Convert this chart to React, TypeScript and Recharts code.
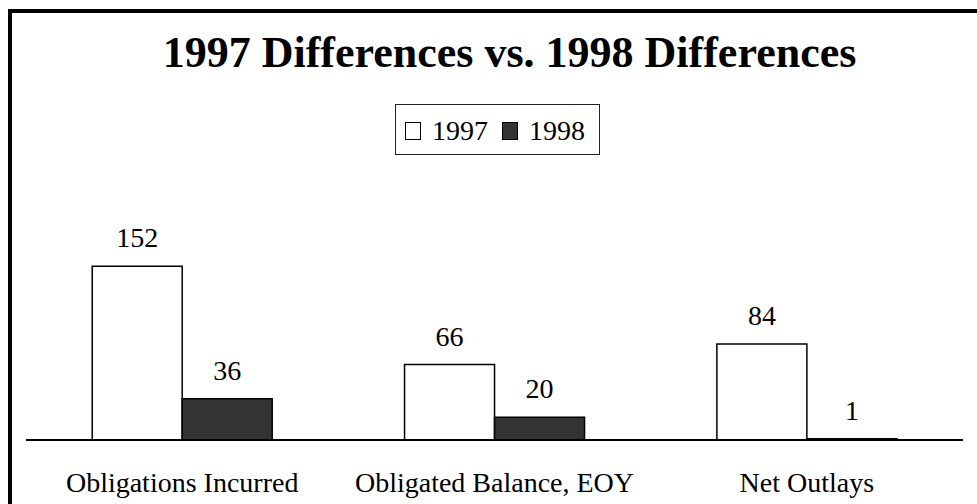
import React from 'react';
import { BarChart, Bar, XAxis, YAxis, LabelList } from 'recharts';

const categories = ['Obligations Incurred', 'Obligated Balance, EOY', 'Net Outlays'];
const values1997 = [152, 66, 84];
const values1998 = [36, 20, 1];
const seriesNames = ['1997', '1998'];
const seriesColors = ['#ffffff', '#333333'];

const chartData = categories.map((name, i) => ({
  name,
  y1997: values1997[i],
  y1998: values1998[i],
}));

const FONT = '"Liberation Serif", "Times New Roman", Times, serif';

function CategoryTick({ x, y, payload }: any) {
  return (
    <text x={x} y={y + 52} textAnchor="middle" fontSize={28} fontFamily={FONT} fill="#000">
      {payload.value}
    </text>
  );
}

function ChartLegend() {
  return (
    <div
      style={{
        position: 'absolute',
        left: 395,
        top: 104,
        width: 205,
        height: 51,
        boxSizing: 'border-box',
        border: '1px solid #222',
        background: '#fff',
        display: 'flex',
        alignItems: 'center',
        paddingLeft: 9,
        paddingTop: 2,
        fontFamily: FONT,
      }}
    >
      {seriesNames.map((name, i) => (
        <React.Fragment key={name}>
          <span
            style={{
              display: 'inline-block',
              width: 18,
              height: 18,
              boxSizing: 'border-box',
              border: '1px solid #000',
              background: seriesColors[i],
              marginRight: 11,
            }}
          />
          <span style={{ fontSize: 28, lineHeight: 1, marginRight: 14, color: '#000' }}>{name}</span>
        </React.Fragment>
      ))}
    </div>
  );
}

export default function App() {
  return (
    <div
      style={{
        position: 'fixed',
        left: 0,
        top: 0,
        width: 977,
        height: 504,
        overflow: 'hidden',
        background: '#fff',
      }}
    >
      {/* outer frame, right and bottom edges fall outside the picture */}
      <div
        style={{
          position: 'absolute',
          left: 8,
          top: 9,
          width: 1100,
          height: 600,
          borderLeft: '4px solid #000',
          borderTop: '4px solid #000',
        }}
      />
      <div
        style={{
          position: 'absolute',
          left: 162,
          top: 31,
          width: 695,
          textAlign: 'center',
          whiteSpace: 'nowrap',
          fontFamily: FONT,
          fontWeight: 'bold',
          fontSize: 44,
          lineHeight: 1,
          color: '#000',
        }}
      >
        1997 Differences vs. 1998 Differences
      </div>
      <ChartLegend />
      <div style={{ position: 'absolute', left: 0, top: 0 }}>
        <BarChart
          width={977}
          height={504}
          data={chartData}
          margin={{ top: 257, right: 14, bottom: 0, left: 26 }}
          barCategoryGap="21.2%"
          barGap={0}
        >
          <XAxis
            dataKey="name"
            height={64}
            axisLine={{ stroke: '#000', strokeWidth: 2 }}
            tickLine={false}
            tickSize={0}
            tickMargin={0}
            interval={0}
            tick={<CategoryTick />}
          />
          <YAxis hide domain={[0, 160]} />
          <Bar dataKey="y1997" fill={seriesColors[0]} stroke="#000" strokeWidth={1.5} isAnimationActive={false}>
            <LabelList dataKey="y1997" position="top" offset={19} fontSize={28} fontFamily={FONT} fill="#000" />
          </Bar>
          <Bar dataKey="y1998" fill={seriesColors[1]} stroke="#000" strokeWidth={1.5} isAnimationActive={false}>
            <LabelList dataKey="y1998" position="top" offset={19} fontSize={28} fontFamily={FONT} fill="#000" />
          </Bar>
        </BarChart>
      </div>
    </div>
  );
}
